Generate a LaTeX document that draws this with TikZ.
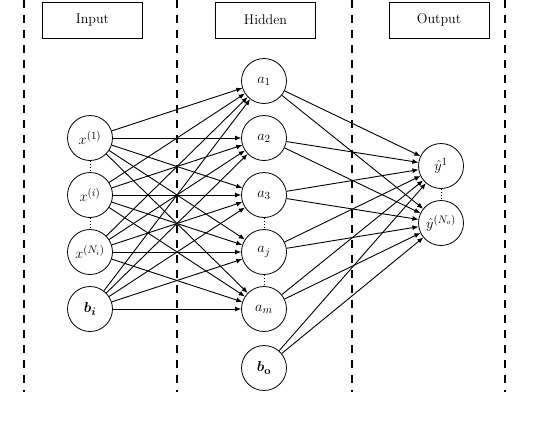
\documentclass[tikz,border=0pt]{standalone}
\usepackage{amsmath,bm}
\usetikzlibrary{arrows.meta}
\begin{document}
\begin{tikzpicture}[x=1pt,y=-1pt,
 neuron/.style={circle,draw,line width=0.8pt,minimum size=45pt,inner sep=0pt,font=\fontsize{15}{17}\selectfont},
 labelbox/.style={draw,line width=0.8pt,minimum width=100pt,minimum height=36pt,inner sep=0pt,font=\fontsize{14}{16}\selectfont},
 conn/.style={line width=0.9pt,-{Latex[length=6pt,width=5pt]}},
 dotsline/.style={line width=1pt,dash pattern=on 1pt off 2pt},
 divider/.style={line width=1.8pt,dash pattern=on 8pt off 7pt}]
\useasboundingbox (0,0) rectangle (534,420);
% dividers
\foreach \n/\x in {d1/24,d2/177,d3/352,d4/505}{
  \coordinate (\n t) at (\x,0);
  \coordinate (\n b) at (\x,392);
  \draw[divider] (\n t) -- (\n b);
}
% header boxes
\node[labelbox] (inbox) at (92.5,20) {Input};
\node[labelbox] (hidbox) at (265.5,20) {Hidden};
\node[labelbox] (outbox) at (439,20) {Output};
% input layer
\node[neuron] (x1) at (90,138) {$x^{(1)}$};
\node[neuron] (xi) at (90,195) {$x^{(i)}$};
\node[neuron] (xn) at (90,252) {$x^{(N_i)}$};
\node[neuron] (bi) at (90,309) {$\bm{b_i}$};
% hidden layer
\node[neuron] (a1) at (264,81) {$a_1$};
\node[neuron] (a2) at (264,138) {$a_2$};
\node[neuron] (a3) at (264,195) {$a_3$};
\node[neuron] (aj) at (264,252) {$a_j$};
\node[neuron] (am) at (264,309) {$a_m$};
\node[neuron] (bo) at (264,368) {$\bm{b}_{\mathbf{o}}$};
% output layer
\node[neuron] (y1) at (441,166) {$\hat{y}^{1}$};
\node[neuron] (yn) at (441,223) {$\hat{y}^{(N_o)}$};
% dotted continuation marks
\draw[dotsline] (x1.south) -- (xi.north);
\draw[dotsline] (xi.south) -- (xn.north);
\draw[dotsline] (a3.south) -- (aj.north);
\draw[dotsline] (aj.south) -- (am.north);
\draw[dotsline] (y1.south) -- (yn.north);
% connections
\foreach \s in {x1,xi,xn,bi}
  \foreach \t in {a1,a2,a3,aj,am}
    \draw[conn] (\s) -- (\t);
\foreach \s in {a1,a2,a3,aj,am,bo}
  \foreach \t in {y1,yn}
    \draw[conn] (\s) -- (\t);
\end{tikzpicture}
\end{document}
